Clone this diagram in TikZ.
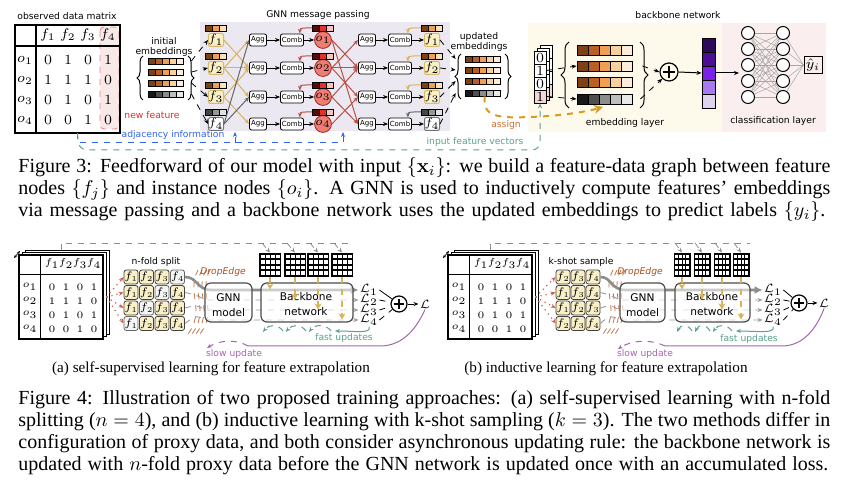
\RequirePackage{fix-cm}
\documentclass[tikz,border=0pt]{standalone}
\usepackage[no-math]{fontspec}
\setmainfont{Liberation Serif}
\setsansfont{DejaVu Sans}
\usetikzlibrary{arrows.meta,decorations.pathreplacing,calc}
\definecolor{lav}{RGB}{236,232,242}
\definecolor{bbg}{RGB}{253,250,236}
\definecolor{pbg}{RGB}{250,238,238}
\definecolor{ffl}{RGB}{250,240,200}
\definecolor{fbd}{RGB}{215,185,105}
\definecolor{br1}{RGB}{125,65,20}
\definecolor{br2}{RGB}{185,95,35}
\definecolor{br3}{RGB}{240,160,80}
\definecolor{br4}{RGB}{250,210,160}
\definecolor{br5}{RGB}{253,236,215}
\definecolor{gy1}{RGB}{25,25,25}
\definecolor{gy2}{RGB}{80,80,80}
\definecolor{gy3}{RGB}{140,140,140}
\definecolor{gy4}{RGB}{190,190,190}
\definecolor{gy5}{RGB}{232,232,232}
\definecolor{sb1}{RGB}{125,65,20}
\definecolor{sb2}{RGB}{240,160,80}
\definecolor{sb3}{RGB}{252,225,190}
\definecolor{sg1}{RGB}{70,70,70}
\definecolor{sg2}{RGB}{150,150,150}
\definecolor{sg3}{RGB}{225,225,225}
\definecolor{sr1}{RGB}{90,10,10}
\definecolor{sr2}{RGB}{225,50,45}
\definecolor{sr3}{RGB}{250,195,190}
\definecolor{pu1}{RGB}{45,10,90}
\definecolor{pu2}{RGB}{75,15,150}
\definecolor{pu3}{RGB}{120,35,230}
\definecolor{pu4}{RGB}{170,120,240}
\definecolor{pu5}{RGB}{222,212,240}
\definecolor{ofl}{RGB}{240,125,115}
\definecolor{odk}{RGB}{150,40,35}
\definecolor{yed}{RGB}{215,180,90}
\definecolor{ree}{RGB}{185,80,70}
\definecolor{bluel}{RGB}{50,100,230}
\definecolor{teall}{RGB}{90,160,140}
\definecolor{asg}{RGB}{215,155,30}
\definecolor{asgt}{RGB}{200,110,50}
\definecolor{nfr}{RGB}{230,40,40}
\definecolor{dbr}{RGB}{170,80,30}
\definecolor{slw}{RGB}{165,100,175}
\definecolor{pinkc}{RGB}{242,215,215}
\definecolor{rdot}{RGB}{200,95,85}
\newcommand\lblfont{\sffamily\fontsize{4.6}{5.2}\selectfont}
\newcommand\tfont{\fontsize{7}{8}\selectfont}
\newcommand\fsz{\fontsize{6}{7}\selectfont}
\newcommand\aggfont{\sffamily\fontsize{3.5}{4}\selectfont}
\newcommand\btfont{\fontsize{5}{6}\selectfont}
\newcommand\gsz{\fontsize{5.5}{6}\selectfont}
\newcommand\gfont{\sffamily\fontsize{5.3}{6}\selectfont}
\newcommand\lsz{\fontsize{6}{7}\selectfont}
\newcommand\capfont{\fontsize{10}{12}\selectfont}
\newcommand\subcapfont{\fontsize{7.6}{9}\selectfont}
% embedding bar: name, x-left, y-center, cell w, cell h, n, palette
\newcommand\ebar[7]{%
  \foreach \k in {1,...,#6}{%
    \filldraw[fill=#7\k,draw=black,line width=0.3pt] ({#2+(\k-1)*#4},{#3-#5/2}) rectangle ++(#4,#5);}%
  \node[inner sep=0,minimum width={#6*#4*0.5pt},minimum height={#5*0.5pt}] (#1) at ({#2+#6*#4/2},{#3}) {};%
}
% small data matrix: name, center x, width
\newcommand\smat[3]{%
  \fill[black] ({#2-#3/2},253) rectangle ({#2+#3/2},277);
  \foreach \r in {0,...,3}{\foreach \c in {0,...,3}{%
    \fill[white] ({#2-#3/2+1.5+\c*(#3-2)/4},{254.6+\r*5.5}) rectangle ++({(#3-2)/4-1},3.8);}}
  \node[inner sep=0,minimum width={#3*0.5pt},minimum height=12pt] (#1) at (#2,265) {};%
}
% stacked table: name, x-left
\newcommand\btable[2]{%
\begin{scope}[shift={(#2,0)}]
  \filldraw[fill=white,line width=0.4pt] (6,250) rectangle (90,334);
  \filldraw[fill=white,line width=0.4pt] (3,252.5) rectangle (87,336.5);
  \filldraw[fill=white,line width=0.6pt] (0,255) rectangle (84,339);
  \draw[line width=0.5pt] (21,255) -- (21,339) (0,275) -- (84,275);
  \node[inner sep=0,minimum width=42pt,minimum height=42pt] (#1) at (42,297) {};
  \draw[{Stealth[length=1.6pt,width=1.4pt]}-{Stealth[length=1.6pt,width=1.4pt]},line width=0.35pt] (-5,258) -- (1,251);
  \foreach \j/\x in {1/33,2/47,3/61,4/75}{\node[font=\btfont] at (\x,264) {$f_\j$};}
  \foreach \i/\y/\a/\b/\c/\d in {1/287/0/1/0/1,2/301/1/1/1/0,3/315/0/1/0/1,4/329/0/0/1/0}{%
    \node[font=\btfont] at (11,\y) {$o_\i$};
    \node[font=\btfont] at (33,\y) {$\a$};
    \node[font=\btfont] at (47,\y) {$\b$};
    \node[font=\btfont] at (61,\y) {$\c$};
    \node[font=\btfont] at (75,\y) {$\d$};}
\end{scope}}
\begin{document}
\begin{tikzpicture}[x=0.5pt,y=-0.5pt,
  lbl/.style={font=\lblfont,inner sep=0.5pt},
  arr/.style={-{Stealth[length=2.5pt,width=2pt]}},
  fbox/.style={draw=fbd,fill=ffl,rounded corners=1pt,minimum width=6pt,minimum height=6.5pt,inner sep=0,font=\fsz,line width=0.5pt},
  fgray/.style={fbox,draw=black!55,fill=white},
  aggb/.style={draw,fill=white,rounded corners=1pt,minimum height=6pt,inner sep=0.3pt,font=\aggfont,line width=0.4pt},
  onode/.style={circle,draw=odk,fill=ofl,minimum size=7pt,inner sep=0,font=\fsz,line width=0.4pt},
  gbox/.style={draw=black!75,fill=ffl,rounded corners=1.2pt,minimum size=7pt,inner sep=0,font=\gsz,line width=0.4pt},
  gboxg/.style={gbox,fill=black!4,draw=black!60},
  mbox/.style={draw=black!70,line width=0.6pt,rounded corners=3pt,fill=white,fill opacity=0.55},
  lnode/.style={font=\lsz,inner sep=0.5pt},
  plusc/.style={circle,draw,minimum size=8pt,inner sep=0,line width=0.6pt},
  braceL/.style={decorate,decoration={brace,amplitude=3pt},line width=0.5pt},
  capline/.style={font=\capfont,anchor=west,inner sep=0,text height=7pt,text depth=2.2pt},
]
\useasboundingbox (0,0) rectangle (849,490);

%================ FIGURE 3 =================
\node[lbl] (tobs) at (67,16) {observed data matrix};
\filldraw[nfr!60,dashed,rounded corners=2pt,fill=pinkc!55,line width=0.4pt] (100,27) rectangle (119,129);
\draw[line width=0.7pt] (15,25) rectangle (120,133);
\draw[line width=0.7pt] (36,25) -- (36,133) (15,46) -- (120,46);
\node[inner sep=0,minimum width=52.5pt,minimum height=54pt] (tab) at (67.5,79) {};
\foreach \j/\x in {1/48,2/68,3/88,4/108}{\node[font=\tfont] (th\j) at (\x,35) {$f_\j$};}
\foreach \i/\y/\a/\b/\c/\d in {1/60/0/1/0/1,2/80/1/1/1/0,3/100/0/1/0/1,4/120/0/0/1/0}{%
  \node[font=\tfont] (to\i) at (25,\y) {$o_\i$};
  \node[font=\tfont] at (48,\y) {$\a$};
  \node[font=\tfont] at (68,\y) {$\b$};
  \node[font=\tfont] at (88,\y) {$\c$};
  \node[font=\tfont] at (108,\y) {$\d$};}
\node[lbl,text=nfr] (tnew) at (152,115) {new feature};
\node[lbl,align=center] (tinit) at (164,47) {initial\\embeddings};
\ebar{ie1}{148}{61}{7}{6}{5}{br}
\ebar{ie2}{148}{72}{7}{6}{5}{br}
\ebar{ie3}{148}{83}{7}{6}{5}{br}
\ebar{ie4}{148}{94}{7}{6}{5}{gy}
\draw[braceL] (143,100) -- (143,56);
\draw[braceL] (188,56) -- (188,100);

% GNN message passing
\fill[lav] (200,22) rectangle (450,131);
\node[lbl] (tgnn) at (318,15) {GNN message passing};
\foreach \i/\y in {1/40,2/68,3/97,4/124}{%
  \node[aggb,minimum width=8.5pt] (A\i) at (258,\y) {Agg};
  \node[aggb,minimum width=11.5pt] (C\i) at (292,\y) {Comb};
  \node[onode] (o\i) at (323,\y) {$o_\i$};
  \ebar{ob\i}{312.5}{\y-12}{7}{6}{3}{sr}
  \node[aggb,minimum width=8.5pt] (B\i) at (367,\y) {Agg};
  \node[aggb,minimum width=11.5pt] (D\i) at (400,\y) {Comb};
}
\foreach \i/\y in {1/40,2/68,3/97}{%
  \node[fbox] (fL\i) at (216,\y) {$f_\i$};
  \ebar{fLb\i}{205.5}{\y-12}{7}{6}{3}{sb}
  \node[fbox] (fR\i) at (432,\y) {$f_\i$};
  \ebar{fRb\i}{421.5}{\y-12}{7}{6}{3}{sb}
}
\node[fgray] (fL4) at (216,124) {$f_4$};
\ebar{fLb4}{205.5}{112}{7}{6}{3}{sg}
\node[fgray] (fR4) at (432,124) {$f_4$};
\ebar{fRb4}{421.5}{112}{7}{6}{3}{sg}

\foreach \j/\i in {2/1,1/2,2/2,3/2,2/3,3/4}{\draw[yed,line width=0.5pt,arr] (fL\j.east) -- (A\i.west);}
\foreach \i in {1,3}{\draw[black!60,line width=0.5pt,arr] (fL4.east) -- (A\i.west);}
\foreach \i/\j in {2/1,1/2,2/2,3/2,2/3,4/3,1/4,3/4}{\draw[ree,line width=0.5pt,arr] (o\i.east) -- (B\j.west);}
\foreach \i in {1,...,4}{%
  \draw[arr,line width=0.4pt] (A\i) -- (C\i);
  \draw[arr,line width=0.4pt] (C\i) -- (o\i);
  \draw[arr,line width=0.4pt] (B\i) -- (D\i);
  \draw[arr,line width=0.4pt] (D\i) -- (fR\i);
  \draw[ree,arr,line width=0.5pt] (ob\i.west) .. controls +(-10,0) and +(0,-6) .. ([xshift=-2pt]C\i.north east);
}
\foreach \i in {1,2,3}{\draw[yed,arr,line width=0.5pt] (fRb\i.west) .. controls +(-10,0) and +(0,-6) .. ([xshift=-2pt]D\i.north east);}
\draw[black!60,arr,line width=0.5pt] (fRb4.west) .. controls +(-10,0) and +(0,-6) .. ([xshift=-2pt]D4.north east);
\foreach \i in {1,...,4}{\draw[dashed,arr,line width=0.4pt] ([xshift=4pt]ie\i.east) -- (fL\i.west);}

% updated embeddings
\node[lbl,align=center] (tupd) at (479,42) {updated\\embeddings};
\ebar{ue1}{465}{59}{7}{6}{5}{br}
\ebar{ue2}{465}{70}{7}{6}{5}{br}
\ebar{ue3}{465}{81}{7}{6}{5}{br}
\ebar{ue4}{465}{93}{7}{6}{5}{gy}
\draw[braceL] (461,99) -- (461,54);
\draw[braceL] (505,54) -- (505,99);
\foreach \i in {1,...,4}{\draw[dashed,arr,line width=0.4pt] (fR\i.east) -- ([xshift=-4.5pt]ue\i.west);}

% backbone network
\fill[bbg] (528,23) rectangle (722,132);
\fill[pbg] (722,23) rectangle (826,132);
\node[lbl] (tbb) at (678,15) {backbone network};
\foreach \s in {6,3}{\foreach \k/\c in {0/white,1/white,2/white,3/pinkc}{%
  \filldraw[fill=\c,line width=0.4pt] ({534+\s},{51-\s+13*\k}) rectangle ++(12,13);}}
\foreach \k/\v/\c in {1/0/white,2/1/white,3/0/white,4/1/pinkc}{%
  \node[draw,fill=\c,minimum width=6pt,minimum height=6.5pt,inner sep=0,font=\tfont,line width=0.4pt] (iv\k) at (540,{44.5+13*\k}) {$\v$};}
\ebar{el1}{577}{50}{11}{10}{5}{br}
\ebar{el2}{577}{66}{11}{10}{5}{br}
\ebar{el3}{577}{82}{11}{10}{5}{br}
\ebar{el4}{577}{99}{11}{10}{5}{gy}
\draw[decorate,decoration={brace,amplitude=4pt},line width=0.5pt] (569,108) -- (569,42);
\draw[decorate,decoration={brace,amplitude=4pt},line width=0.5pt] (640,42) -- (640,108);
\draw[dashed,arr,line width=0.4pt] (iv2.east) -- (el2.west);
\draw[dashed,arr,line width=0.4pt] (iv4.east) -- (el4.west);
\node[circle,draw,minimum size=9pt,inner sep=0,line width=0.6pt] (pl) at (669,72) {};
\draw[line width=0.6pt] ([xshift=-3pt]pl.center) -- ([xshift=3pt]pl.center) ([yshift=-3pt]pl.center) -- ([yshift=3pt]pl.center);
\draw[dashed,arr,line width=0.4pt] ([xshift=5pt]el2.east) -- (pl.west);
\draw[dashed,arr,line width=0.4pt] ([xshift=4pt]el4.east) -- (pl.south west);
\foreach \k in {1,...,5}{\filldraw[fill=pu\k,line width=0.3pt] (702,{38+14*(\k-1)}) rectangle ++(13,14);}
\node[inner sep=0,minimum width=6.5pt,minimum height=35pt] (pv) at (708.5,73) {};
\draw[arr,line width=0.5pt] (pl.east) -- (pv.west);
\coordinate (nnin) at (739,73);
\draw[arr,line width=0.5pt] (pv.east) -- (nnin);
\foreach \i/\y in {1/33,2/49,3/65,4/81,5/97}{%
  \node[circle,draw,fill=white,minimum size=6.5pt,inner sep=0,line width=0.5pt] (nA\i) at (748,\y) {};
  \node[circle,draw,fill=white,minimum size=6.5pt,inner sep=0,line width=0.5pt] (nB\i) at (783,\y) {};}
\node[draw,minimum width=9pt,minimum height=8.5pt,inner sep=0,font=\tfont,line width=0.5pt] (yh) at (813,65) {$\hat{y}_i$};
\foreach \i in {1,...,5}{\foreach \k in {1,...,5}{\draw[black!35,line width=0.25pt] (nA\i) -- (nB\k);}
  \draw[black!35,line width=0.25pt] (nB\i) -- (yh.west);}
\node[lbl] (temb) at (625,123) {embedding layer};
\node[lbl] (tcls) at (773,121) {classification layer};

% assign
\draw[asg,dashed,line width=1pt,-{Stealth[length=4.5pt,width=4.5pt]}] ([xshift=1pt]ue4.south) -- ++(0,6) .. controls (485,118) and (505,118) .. (530,117) .. controls (560,116) and (585,112) .. (603,107);
\node[lbl,text=asgt] (tasg) at (506,125) {assign};

% adjacency / input feature lines
\coordinate (bj1) at (235,132);
\coordinate (bj2) at (343,132);
\draw[bluel,dashed,line width=0.5pt,arr] ([xshift=5pt]tab.south) -- (77.5,143) -- (343,143) -- (bj2);
\draw[bluel,dashed,line width=0.5pt,arr] (235,143) -- (bj1);
\draw[teall,dashed,line width=0.5pt,arr,rounded corners=4pt] ([xshift=5pt]tab.south) -- (79,150) -- (540,150) -- (iv4.south);
\node[lbl,text=bluel] (tadj) at (173,135) {adjacency information};
\node[lbl,text=teall] (tinp) at (475,142) {input feature vectors};

% caption 3
\node[capline] (c31) at (18,168) {\hbox to 406pt{Figure 3: Feedforward of our model with input $\{\mathbf{x}_i\}$: we build a feature-data graph between feature}};
\node[capline] (c32) at (18,190) {\hbox to 406pt{nodes $\{f_j\}$ and instance nodes $\{o_i\}$. A GNN is used to inductively compute features’ embeddings}};
\node[capline] (c33) at (18,212) {\hbox to 403.5pt{via message passing and a backbone network uses the updated embeddings to predict labels $\{y_i\}$.}};

%================ FIGURE 4 (a) =================
\btable{atab}{19}
\node[lbl] (tnf) at (156,262) {n-fold split};
\foreach \r/\y in {1/277,2/292.5,3/308,4/323.5}{%
  \foreach \c/\x in {1/131,2/146.5,3/162,4/177.5}{%
    \pgfmathtruncatemacro\s{\r+\c}%
    \ifnum\s=5 \node[gboxg] (ga\r\c) at (\x,\y) {$f_\c$};%
    \else \node[gbox] (ga\r\c) at (\x,\y) {$f_\c$};\fi}%
  \draw[rdot,dotted,line width=0.6pt,arr] ([xshift=1.5pt]atab.east) -- (ga\r1.west);}
\foreach \n/\x in {1/270,2/295,3/318,4/342}{\smat{ma\n}{\x}{22}}
\node[lnode] (La1) at (369,290) {$\mathcal{L}_1$};
\node[lnode] (La2) at (369,300) {$\mathcal{L}_2$};
\node[lnode] (La3) at (369,310) {$\mathcal{L}_3$};
\node[lnode] (La4) at (369,320) {$\mathcal{L}_4$};
\node[plusc] (pla) at (399,304) {};
\draw[line width=0.6pt] ([xshift=-2.6pt]pla.center) -- ([xshift=2.6pt]pla.center) ([yshift=-2.6pt]pla.center) -- ([yshift=2.6pt]pla.center);
\node[lnode] (Lfa) at (425,304) {$\mathcal{L}$};
\draw[line width=0.4pt] (La1.east) -- (pla);
\foreach \k in {2,3,4}{\draw[dashed,line width=0.4pt] (La\k.east) -- (pla);}
\draw[dashed,arr,line width=0.4pt] (pla.east) -- (Lfa.west);
\foreach \d in {0,4,8,12}{\draw[dbr!80,dashed,line width=0.4pt] (198+\d,270) .. controls (186+\d,292) and (206+\d,310) .. (188+\d,334);}
\draw[black!45,line width=1.3pt,-{Latex[length=4pt,width=4pt]}] (ga14.east) .. controls (198,277) and (196,290) .. (212,290) -- (La1.west);
\foreach \r/\k/\y in {2/2/300,3/3/310,4/4/320}{\draw[black!40,dashed,line width=0.45pt,arr] (ga\r4.east) .. controls (196,\y-5) .. (206,\y) -- (La\k.west);}
\node[mbox,minimum width=23.5pt,minimum height=19.5pt] (gnna) at (228.5,302.5) {};
\node[mbox,minimum width=46pt,minimum height=19.5pt] (bba) at (307,302.5) {};
\node[font=\gfont] at (228.5,298) {GNN};
\node[font=\gfont] at (228.5,313) {model};
\node[font=\gfont] at (306,297) {Backbone};
\node[font=\gfont] at (306,312) {network};
\node[lbl,text=dbr,font=\lblfont\itshape] (tdea) at (223,272) {DropEdge};
\foreach \n/\y in {1/290,2/300,3/310,4/320}{\draw[yed,dashed,line width=0.6pt,-{Stealth[length=3pt,width=3.5pt]}] (ma\n.south) -- ++(0,\y-278);}
\draw[black!45,dashed,line width=0.4pt] ([yshift=2.5pt]atab.north) |- (350,243);
\foreach \n/\x in {1/270,2/295,3/318,4/342}{\draw[black!45,dashed,line width=0.4pt,arr] (\x-8,243) -- (ma\n.north);}
% fast / slow updates (a)
\draw[teall,line width=0.5pt,arr] (La4.south) .. controls (372,334) and (355,331) .. (335,331);
\draw[teall,dashed,line width=0.5pt,arr] (331,331) .. controls (326,324) and (315,324) .. (309,332);
\draw[teall,dashed,line width=0.5pt,arr] (306,331) .. controls (301,324) and (292,324) .. (286,332);
\draw[teall,dashed,line width=0.5pt,arr] (283,331) .. controls (278,324) and (269,324) .. (263,332);
\node[lbl,text=teall] (tfa) at (344,338) {fast updates};
\draw[slw,line width=0.5pt] (Lfa.south) .. controls (418,325) and (405,346) .. (380,346) -- (248,346);
\draw[slw,dashed,line width=0.5pt,arr] (248,346) .. controls (236,339) and (220,340) .. (207,348);
\node[lbl,text=slw] (tsa) at (234,354) {slow update};
\node[font=\subcapfont] (sca) at (211,369) {(a) self-supervised learning for feature extrapolation};

%================ FIGURE 4 (b) =================
\btable{btab}{448}
\node[lbl] (tks) at (581,262) {k-shot sample};
\foreach \r/\y/\p/\q/\u in {1/277/2/3/4,2/292.5/1/3/4,3/308/1/2/3,4/323.5/2/3/4}{%
  \node[gbox] (gb\r1) at (563,\y) {$f_\p$};
  \node[gbox] (gb\r2) at (578,\y) {$f_\q$};
  \node[gbox] (gb\r3) at (593,\y) {$f_\u$};
  \draw[rdot,dotted,line width=0.6pt,arr] ([xshift=1.5pt]btab.east) -- (gb\r1.west);}
\foreach \n/\x in {1/682,2/702,3/722,4/741}{\smat{mb\n}{\x}{17}}
\node[lnode] (Lb1) at (773,290) {$\mathcal{L}_1$};
\node[lnode] (Lb2) at (773,300) {$\mathcal{L}_2$};
\node[lnode] (Lb3) at (773,310) {$\mathcal{L}_3$};
\node[lnode] (Lb4) at (773,320) {$\mathcal{L}_4$};
\node[plusc] (plb) at (799,303) {};
\draw[line width=0.6pt] ([xshift=-2.6pt]plb.center) -- ([xshift=2.6pt]plb.center) ([yshift=-2.6pt]plb.center) -- ([yshift=2.6pt]plb.center);
\node[lnode] (Lfb) at (824,303) {$\mathcal{L}$};
\draw[line width=0.4pt] (Lb1.east) -- (plb);
\foreach \k in {2,3,4}{\draw[dashed,line width=0.4pt] (Lb\k.east) -- (plb);}
\draw[dashed,arr,line width=0.4pt] (plb.east) -- (Lfb.west);
\foreach \d in {0,4,8,12}{\draw[dbr!80,dashed,line width=0.4pt] (613+\d,270) .. controls (601+\d,292) and (621+\d,310) .. (603+\d,334);}
\draw[black!45,line width=1.3pt,-{Latex[length=4pt,width=4pt]}] (gb13.east) .. controls (612,277) and (610,290) .. (626,290) -- (Lb1.west);
\foreach \r/\y in {2/300,3/310,4/320}{\draw[black!40,dashed,line width=0.45pt,arr] (gb\r3.east) .. controls (610,\y-5) .. (620,\y) -- (Lb\r.west);}
\node[mbox,minimum width=22.5pt,minimum height=19.5pt] (gnnb) at (642.5,302.5) {};
\node[mbox,minimum width=37.5pt,minimum height=19.5pt] (bbb) at (712.5,302.5) {};
\node[font=\gfont] at (642.5,298) {GNN};
\node[font=\gfont] at (642.5,313) {model};
\node[font=\gfont] at (712,297) {Backbone};
\node[font=\gfont] at (712,312) {network};
\node[lbl,text=dbr,font=\lblfont\itshape] (tdeb) at (640,272) {DropEdge};
\foreach \n/\y in {1/290,2/300,3/310,4/320}{\draw[yed,dashed,line width=0.6pt,-{Stealth[length=3pt,width=3.5pt]}] (mb\n.south) -- ++(0,\y-278);}
\draw[black!45,dashed,line width=0.4pt] ([yshift=2.5pt]btab.north) |- (750,243);
\foreach \n/\x in {1/682,2/702,3/722,4/741}{\draw[black!45,dashed,line width=0.4pt,arr] (\x-7,243) -- (mb\n.north);}
\draw[teall,line width=0.5pt,arr] (Lb4.south) .. controls (776,334) and (756,331) .. (736,331);
\draw[teall,dashed,line width=0.5pt,arr] (732,331) .. controls (727,324) and (718,324) .. (713,332);
\draw[teall,dashed,line width=0.5pt,arr] (710,331) .. controls (706,324) and (699,324) .. (695,332);
\draw[teall,dashed,line width=0.5pt,arr] (692,331) .. controls (688,324) and (681,324) .. (677,332);
\node[lbl,text=teall] (tfb) at (749,339) {fast updates};
\draw[slw,line width=0.5pt] (Lfb.south) .. controls (818,325) and (805,346) .. (782,346) -- (665,346);
\draw[slw,dashed,line width=0.5pt,arr] (665,346) .. controls (650,339) and (632,340) .. (618,349);
\node[lbl,text=slw] (tsb) at (645,354) {slow update};
\node[font=\subcapfont] (scb) at (606,369) {(b) inductive learning for feature extrapolation};

% caption 4
\node[capline] (c41) at (18,400) {\hbox to 406pt{Figure 4: Illustration of two proposed training approaches: (a) self-supervised learning with n-fold}};
\node[capline] (c42) at (18,422) {\hbox to 406pt{splitting ($n=4$), and (b) inductive learning with k-shot sampling ($k=3$). The two methods differ in}};
\node[capline] (c43) at (18,444) {\hbox to 406pt{configuration of proxy data, and both consider asynchronous updating rule: the backbone network is}};
\node[capline] (c44) at (18,466) {\hbox to 405pt{updated with $n$-fold proxy data before the GNN network is updated once with an accumulated loss.}};
\end{tikzpicture}
\end{document}
